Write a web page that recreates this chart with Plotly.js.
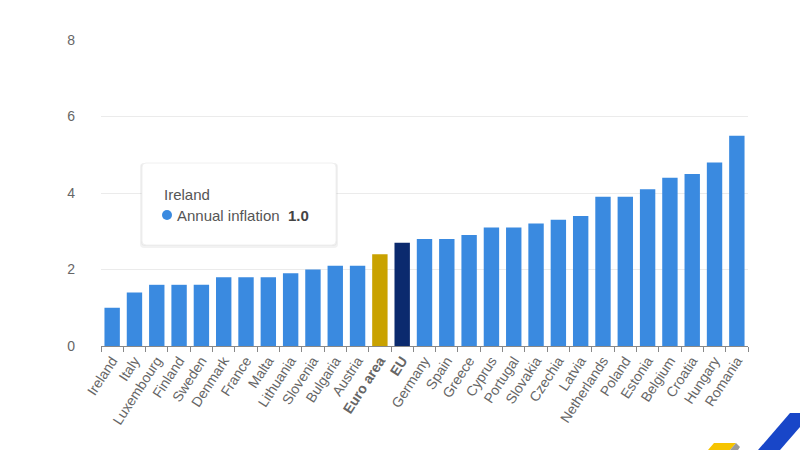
<!DOCTYPE html>
<html>
<head>
<meta charset="utf-8">
<script src="https://cdn.plot.ly/plotly-3.0.1.min.js"></script>
<style>html,body{margin:0;padding:0;background:#fff;}#chart{width:800px;height:450px;}</style>
</head>
<body>
<div id="chart"></div>
<script>
var countries = ["Ireland","Italy","Luxembourg","Finland","Sweden","Denmark","France","Malta","Lithuania","Slovenia","Bulgaria","Austria","Euro area","EU","Germany","Spain","Greece","Cyprus","Portugal","Slovakia","Czechia","Latvia","Netherlands","Poland","Estonia","Belgium","Croatia","Hungary","Romania"];
var inflation = [1.0,1.4,1.6,1.6,1.6,1.8,1.8,1.8,1.9,2.0,2.1,2.1,2.4,2.7,2.8,2.8,2.9,3.1,3.1,3.2,3.3,3.4,3.9,3.9,4.1,4.4,4.5,4.8,5.5];
var yTicks = [0,2,4,6,8];
var seriesName = "Annual inflation";
var hoverCountry = "Ireland";

var colors = countries.map(function(c){
  if (c === "Euro area") return "#c9a200";
  if (c === "EU") return "#0b2a6e";
  return "#3a8ae0";
});
var tickText = countries.map(function(c){
  return (c === "Euro area" || c === "EU") ? "<b>" + c + "</b>" : c;
});

var W = 800, H = 450, L = 101, R = 52, T = 40, B = 104;
var pw = W - L - R, ph = H - T - B;
function px(x){ return (x - L) / pw; }
function py(y){ return (H - B - y) / ph; }
function roundRect(x0, y0, x1, y1, r){
  var rx = r / pw, ry = r / ph;
  var a = px(x0), b = px(x1), c = py(y1), d = py(y0);
  return "M" + (a+rx) + "," + d + " L" + (b-rx) + "," + d + " Q" + b + "," + d + " " + b + "," + (d-ry) +
         " L" + b + "," + (c+ry) + " Q" + b + "," + c + " " + (b-rx) + "," + c +
         " L" + (a+rx) + "," + c + " Q" + a + "," + c + " " + a + "," + (c+ry) +
         " L" + a + "," + (d-ry) + " Q" + a + "," + d + " " + (a+rx) + "," + d + " Z";
}
function poly(pts){
  return "M" + pts.map(function(p){ return px(p[0]) + "," + py(p[1]); }).join(" L") + " Z";
}

var hv = inflation[countries.indexOf(hoverCountry)];

var data = [{
  type: "bar",
  x: countries,
  y: inflation,
  name: seriesName,
  marker: {color: colors},
  hoverinfo: "none"
}];

var layout = {
  width: W, height: H,
  margin: {l: L, r: R, t: T, b: B, pad: 0},
  paper_bgcolor: "#ffffff",
  plot_bgcolor: "#ffffff",
  font: {family: "Liberation Sans, Arial, sans-serif", color: "#666666", size: 13},
  showlegend: false,
  bargap: 0.31,
  xaxis: {
    type: "category",
    tickvals: countries,
    ticktext: tickText,
    tickangle: -57,
    tickson: "boundaries",
    ticks: "outside",
    ticklen: 5,
    tickcolor: "#888888",
    showline: true,
    linecolor: "#888888",
    linewidth: 1,
    showgrid: false,
    tickfont: {size: 14, color: "#666666"},
    fixedrange: true
  },
  yaxis: {
    range: [0, 8],
    tickvals: yTicks,
    ticktext: yTicks.map(String),
    showgrid: true,
    gridcolor: "#ebebeb",
    gridwidth: 1,
    zeroline: false,
    showline: false,
    ticks: "",
    ticklabelstandoff: 25,
    tickfont: {size: 14, color: "#666666"},
    fixedrange: true
  },
  shapes: [
    {type: "path", xref: "paper", yref: "paper", path: roundRect(140, 163, 338, 248, 4), fillcolor: "rgba(0,0,0,0.05)", line: {width: 0}},
    {type: "path", xref: "paper", yref: "paper", path: roundRect(141, 163, 337, 246, 4), fillcolor: "rgba(0,0,0,0.04)", line: {width: 0}},
    {type: "path", xref: "paper", yref: "paper", path: roundRect(142, 163, 336, 245, 4), fillcolor: "#ffffff", line: {color: "#f0f0f0", width: 1}},
    {type: "circle", xref: "paper", yref: "paper", x0: px(162), x1: px(172), y0: py(220), y1: py(210), fillcolor: "#3a8ae0", line: {width: 0}},
    {type: "path", xref: "paper", yref: "paper", path: poly([[758,450],[790,413],[812,413],[780,450]]), fillcolor: "#1846c8", line: {width: 0}},
    {type: "path", xref: "paper", yref: "paper", path: poly([[708,450],[714,443],[736,443],[730,450]]), fillcolor: "#f6c400", line: {width: 0}},
    {type: "path", xref: "paper", yref: "paper", path: poly([[730,450],[736,443],[740,447],[738,450]]), fillcolor: "#9a9a9a", line: {width: 0}}
  ],
  annotations: [
    {xref: "paper", yref: "paper", x: px(162), y: py(194), xanchor: "left", yanchor: "middle", showarrow: false,
     text: hoverCountry, font: {size: 15, color: "#555555", family: "Liberation Sans, Arial, sans-serif"}},
    {xref: "paper", yref: "paper", x: px(175), y: py(215), xanchor: "left", yanchor: "middle", showarrow: false,
     text: seriesName + "  <b style='color:#444'>" + hv.toFixed(1) + "</b>", font: {size: 15, color: "#555555", family: "Liberation Sans, Arial, sans-serif"}}
  ]
};

Plotly.newPlot("chart", data, layout, {displayModeBar: false, staticPlot: true});
</script>
</body>
</html>
